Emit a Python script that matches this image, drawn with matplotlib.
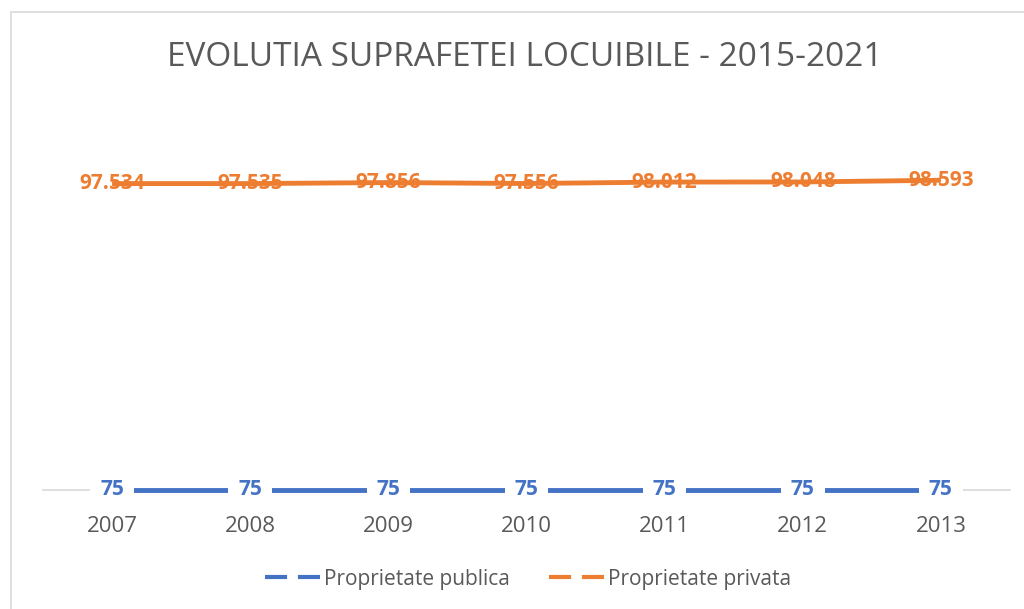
import matplotlib
matplotlib.use("Agg")
import matplotlib.pyplot as plt
from matplotlib.patches import Rectangle
from matplotlib.lines import Line2D

years = ["2007", "2008", "2009", "2010", "2011", "2012", "2013"]
publica = [75, 75, 75, 75, 75, 75, 75]
privata = [97534, 97535, 97856, 97556, 98012, 98048, 98593]
title = "EVOLUTIA SUPRAFETEI LOCUIBILE - 2015-2021"

BLUE = "#4472C4"
ORANGE = "#ED7D31"
GRAY = "#595959"

plt.rcParams['font.family'] = ['Open Sans', 'DejaVu Sans']

fig = plt.figure(figsize=(10.24, 6.09), dpi=100)
W, H = 1024, 609
left, right = 43, 1010
top, bottom = 113, 490
ax = fig.add_axes([left / W, 1 - bottom / H, (right - left) / W, (bottom - top) / H])

x = list(range(len(years)))
ax.plot(x, publica, color=BLUE, lw=3.5, solid_capstyle='butt', zorder=2, clip_on=False)
ax.plot(x, privata, color=ORANGE, lw=3.5, solid_capstyle='butt', zorder=2, clip_on=False)

def fmt(v):
    return f"{v:,}".replace(",", ".")

for xi, v in zip(x, publica):
    ax.text(xi, v, fmt(v), color=BLUE, fontsize=15, fontweight='bold', ha='center', va='center',
            zorder=3, bbox=dict(facecolor='white', edgecolor='none', pad=7))
for xi, v in zip(x, privata):
    ax.text(xi, v, fmt(v), color=ORANGE, fontsize=15, fontweight='bold', ha='center', va='center', zorder=3)

ax.set_xlim(-0.5, len(years) - 0.5)
ax.set_ylim(0, 120000)
ax.set_xticks(x)
ax.set_xticklabels(years, fontsize=16, color=GRAY)
ax.tick_params(axis='x', length=0, pad=19)
ax.set_yticks([])
for s in ['top', 'right', 'left']:
    ax.spines[s].set_visible(False)
ax.spines['bottom'].set_color('#D9D9D9')
ax.spines['bottom'].set_linewidth(1.2)
ax.spines['bottom'].set_zorder(1)

fig.text(525 / W, 1 - 58 / H, title, ha='center', va='center', fontsize=24, color=GRAY)

handles = [Line2D([0], [0], color=BLUE, lw=3, linestyle=(0, (5.3, 2.6))),
           Line2D([0], [0], color=ORANGE, lw=3, linestyle=(0, (5.3, 2.6)))]
fig.legend(handles, ["Proprietate publica", "Proprietate privata"], loc='center',
           bbox_to_anchor=(528 / W, 1 - 579 / H), ncol=2, frameon=False, fontsize=15,
           labelcolor=GRAY, handlelength=2.65, handletextpad=0.15, columnspacing=1.9)

fig.patches.append(Rectangle((11 / W, -0.1), 1.2, 1 - 12 / H + 0.1, transform=fig.transFigure,
                             fill=False, edgecolor='#D9D9D9', lw=1.2))

fig.savefig("out.png", dpi=100, facecolor='white')
